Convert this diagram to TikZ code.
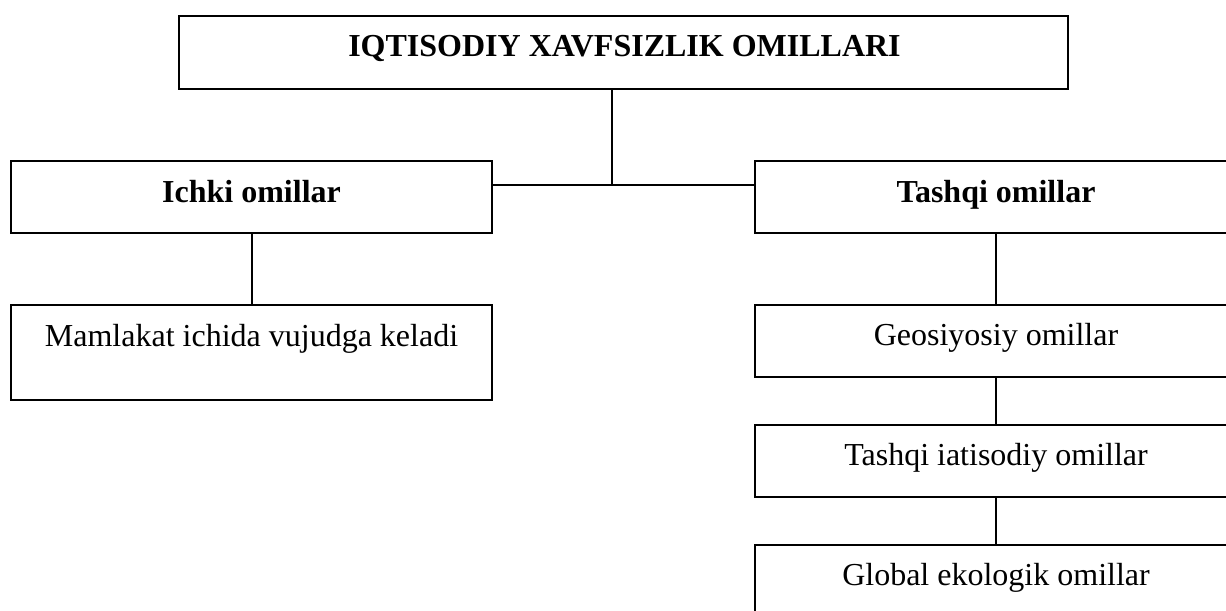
\documentclass[tikz,border=0pt]{standalone}
\usepackage{fontspec}
\setmainfont{Liberation Serif}
\begin{document}
\begin{tikzpicture}[x=0.75pt,y=-0.75pt,
  boxnode/.style={draw=black,line width=1.5pt,inner sep=0pt,fill=white},
  lbl/.style={anchor=base,inner sep=0pt,font=\fontsize{24}{28}\selectfont},
  blbl/.style={lbl,font=\fontsize{24}{28}\selectfont\bfseries},
  conn/.style={draw=black,line width=1.5pt}]
\useasboundingbox (0,0) rectangle (1226,610);
\clip (0,0) rectangle (1226,610);
\fill[white] (0,0) rectangle (1226,610);
% boxes
\node[boxnode,minimum width=666.75pt,minimum height=54pt] (top) at (623.5,52.5) {};
\node[boxnode,minimum width=360.75pt,minimum height=54pt] (ichki) at (251.5,197) {};
\node[boxnode,minimum width=360.75pt,minimum height=71.25pt] (mam) at (251.5,352.5) {};
\node[boxnode,minimum width=361.5pt,minimum height=54pt] (tashqi) at (996,197) {};
\node[boxnode,minimum width=361.5pt,minimum height=54pt] (geo) at (996,341) {};
\node[boxnode,minimum width=361.5pt,minimum height=54pt] (iat) at (996,461) {};
\node[boxnode,minimum width=361.5pt,minimum height=54pt] (glob) at (996,581) {};
% texts
\node[blbl] (toptext) at (624.5,57) {IQTISODIY XAVFSIZLIK OMILLARI};
\node[blbl] (ichkitext) at (251.5,202) {Ichki omillar};
\node[lbl] (mamtext) at (251.5,346) {Mamlakat ichida vujudga keladi};
\node[blbl] (tashqitext) at (996,202) {Tashqi omillar};
\node[lbl] (geotext) at (996,345) {Geosiyosiy omillar};
\node[lbl] (iattext) at (996,465) {Tashqi iatisodiy omillar};
\node[lbl] (globtext) at (996,585) {Global ekologik omillar};
% connectors
\coordinate (j) at (612,185);
\draw[conn] (j |- top.south) -- (j);
\draw[conn] (ichki.east |- j) -- (tashqi.west |- j);
\draw[conn] (ichki.south) -- (mam.north);
\draw[conn] (tashqi.south) -- (geo.north);
\draw[conn] (geo.south) -- (iat.north);
\draw[conn] (iat.south) -- (glob.north);
\end{tikzpicture}
\end{document}
